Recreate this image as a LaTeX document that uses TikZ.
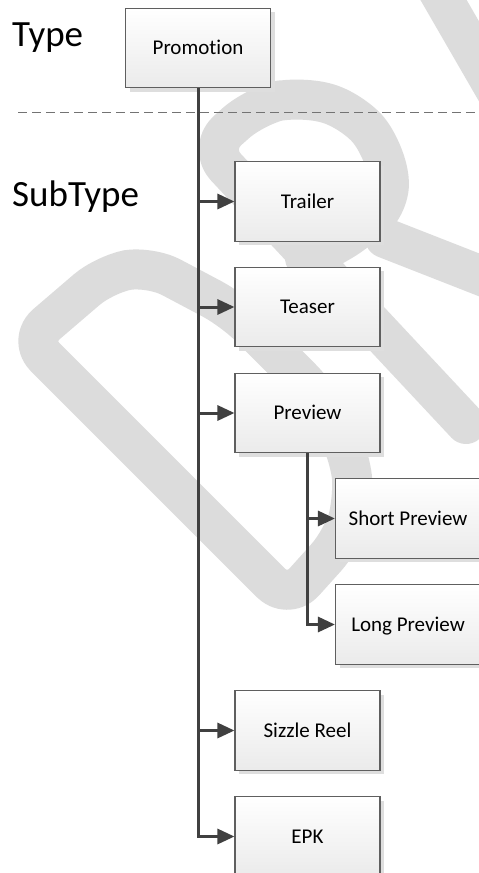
\documentclass[tikz,border=0pt]{standalone}
\usepackage{fontspec}
\setmainfont{Carlito}[Ligatures={NoCommon,NoRare,NoContextual}]
\usetikzlibrary{arrows.meta,shadows}
\definecolor{wmark}{RGB}{220,220,220}
\definecolor{connc}{RGB}{64,64,64}
\definecolor{boxline}{RGB}{95,95,95}
\definecolor{shadc}{RGB}{222,222,222}
\definecolor{dashc}{RGB}{115,115,115}
\begin{document}
\begin{tikzpicture}[x=1pt,y=-1pt,
  wmk/.style={draw=wmark, line width=40pt, line cap=round, line join=round},
  bx/.style={rectangle, draw=boxline, line width=1.1pt, minimum width=145pt, minimum height=79.5pt,
    top color=white, bottom color=black!8, inner sep=0pt,
    text height=13.5pt, text depth=0pt,
    font=\fontsize{21}{25}\selectfont,
    drop shadow={shadow xshift=4pt, shadow yshift=-4pt, fill=shadc, opacity=1}},
  conn/.style={draw=connc, line width=3pt, -{Triangle[length=17pt,width=15pt]}},
  ttl/.style={anchor=base west, inner sep=0pt, font=\fontsize{37}{44}\selectfont},
  dashline/.style={draw=dashc, line width=1pt, dash pattern=on 9pt off 5pt}]
\useasboundingbox (0,0) rectangle (479,873);
\clip (0,0) rectangle (479,873);
\fill[white] (0,0) rectangle (479,873);
% watermark
\draw[wmk, rounded corners=24pt] (160,472) -- (28,340) -- (105,274) -- (150,266) -- (233,310) -- (318,395) -- (350,455) -- (354,500) -- (342,540) -- (288,600) -- cycle;
\draw[wmk, rounded corners=26pt] (466,424) -- (208,148) -- (255,106) -- (300,96) -- (352,110) -- (385,150) -- (392,205) -- (330,250) -- (305,258);
\draw[wmk] (385,238) -- (505,285);
\draw[wmk] (432,-20) -- (510,115);
% separator
\coordinate (sepL) at (18,112.5);
\coordinate (sepR) at (479,112.5);
\draw[dashline] (sepL) -- (sepR);
% titles
\node[ttl] (type) at (12,46.5) {Type};
\node[ttl] (subtype) at (12,206) {SubType};
% boxes
\node[bx] (promo) at (198,48) {Promotion};
\node[bx] (trailer) at (307.5,201.5) {Trailer};
\node[bx] (teaser) at (307.5,307) {Teaser};
\node[bx] (preview) at (307.5,413) {Preview};
\node[bx] (short) at (408,518.5) {Short Preview};
\node[bx] (long) at (408,624.5) {Long Preview};
\node[bx] (sizzle) at (307.5,730.5) {Sizzle Reel};
\node[bx] (epk) at (307.5,836.5) {EPK};
% connectors
\draw[conn] (promo.south) |- (trailer.west);
\draw[conn] (promo.south) |- (teaser.west);
\draw[conn] (promo.south) |- (preview.west);
\draw[conn] (promo.south) |- (sizzle.west);
\draw[conn] (promo.south) |- (epk.west);
\draw[conn] (preview.south) |- (short.west);
\draw[conn] (preview.south) |- (long.west);
\end{tikzpicture}
\end{document}
